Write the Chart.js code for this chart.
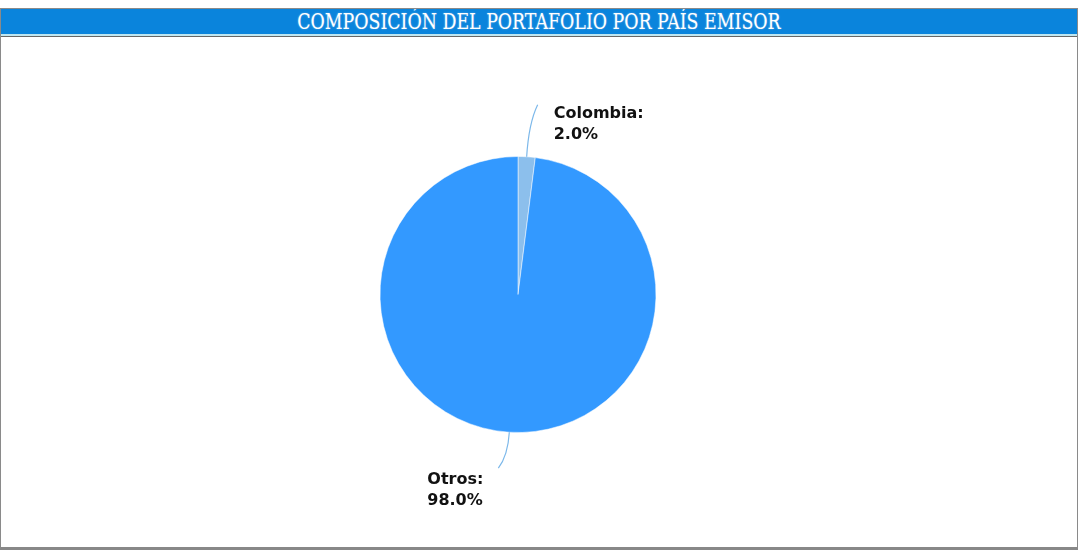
<!DOCTYPE html>
<html>
<head>
<meta charset="utf-8">
<script src="https://cdn.jsdelivr.net/npm/chart.js"></script>
<style>
  html, body { margin: 0; padding: 0; background: #fff; }
  .box {
    position: absolute; left: 0; top: 8px; width: 1076px; height: 538px;
    border: 1px solid #8a8a8a; border-bottom: 3px solid #888; background: #fff;
  }
  .title {
    height: 25px; background: #0a84dc; border-bottom: 2px solid #bfe6f0;
    box-shadow: 0 1px 0 #666; text-align: center; overflow: hidden;
  }
  .title span {
    display: inline-block; color: #fff;
    font: 22px "DejaVu Serif", serif; line-height: 26px;
    text-shadow: 0 0 2px #6fb4e8; transform: scaleX(0.79); white-space: nowrap;
  }
  .wrap { position: absolute; left: 0; top: 28px; width: 1076px; height: 509px; }
</style>
</head>
<body>
<div class="box">
  <div class="title"><span>COMPOSICIÓN DEL PORTAFOLIO POR PAÍS EMISOR</span></div>
  <div class="wrap"><canvas id="pie"></canvas></div>
</div>
<script>
var paises = ["Colombia", "Otros"];
var porcentajes = [2.0, 98.0];
var colores = ["#8cbfec", "#3399ff"];

var labelLines = {
  id: "labelLines",
  afterDraw: function (chart) {
    var meta = chart.getDatasetMeta(0);
    var ctx = chart.ctx;
    ctx.save();
    meta.data.forEach(function (arc, i) {
      var mid = (arc.startAngle + arc.endAngle) / 2;
      var r = arc.outerRadius;
      var cx = arc.x, cy = arc.y;
      var side = Math.cos(mid) >= 0 ? 1 : -1;
      var up = Math.sin(mid) < 0 ? -1 : 1;
      var len = up < 0 ? 52 : 36;
      var x0 = cx + Math.cos(mid) * r, y0 = cy + Math.sin(mid) * r;
      var x1 = cx + Math.cos(mid) * (r + len * 0.65), y1 = cy + Math.sin(mid) * (r + len * 0.65);
      var x2 = x0 + side * 11, y2 = y0 + up * len;
      ctx.strokeStyle = "#7cb8ea";
      ctx.lineWidth = 1.2;
      ctx.beginPath();
      ctx.moveTo(x0, y0);
      ctx.quadraticCurveTo(x1, y1, x2, y2);
      ctx.stroke();
      ctx.fillStyle = "#111";
      ctx.font = "bold 16px 'DejaVu Sans', Verdana, sans-serif";
      ctx.textBaseline = "middle";
      ctx.textAlign = "left";
      var lines = [paises[i] + ":", porcentajes[i].toFixed(1) + "%"];
      var tx, ty;
      if (side > 0) {
        tx = x2 + 16;
        ty = y2 + 9;
      } else {
        var w = Math.max(ctx.measureText(lines[0]).width, ctx.measureText(lines[1]).width);
        tx = x2 - 15 - w;
        ty = y2 + 12;
      }
      ctx.fillText(lines[0], tx, ty);
      ctx.fillText(lines[1], tx, ty + 21);
    });
    ctx.restore();
  }
};

new Chart(document.getElementById("pie"), {
  type: "pie",
  data: {
    labels: paises,
    datasets: [{
      data: porcentajes,
      backgroundColor: colores,
      borderColor: "#ffffff",
      borderWidth: 0.5,
      radius: 138
    }]
  },
  options: {
    responsive: true,
    maintainAspectRatio: false,
    animation: false,
    layout: { padding: { left: 0, right: 42, top: 6, bottom: 0 } },
    plugins: {
      legend: { display: false },
      tooltip: { enabled: false }
    }
  },
  plugins: [labelLines]
});
</script>
</body>
</html>
